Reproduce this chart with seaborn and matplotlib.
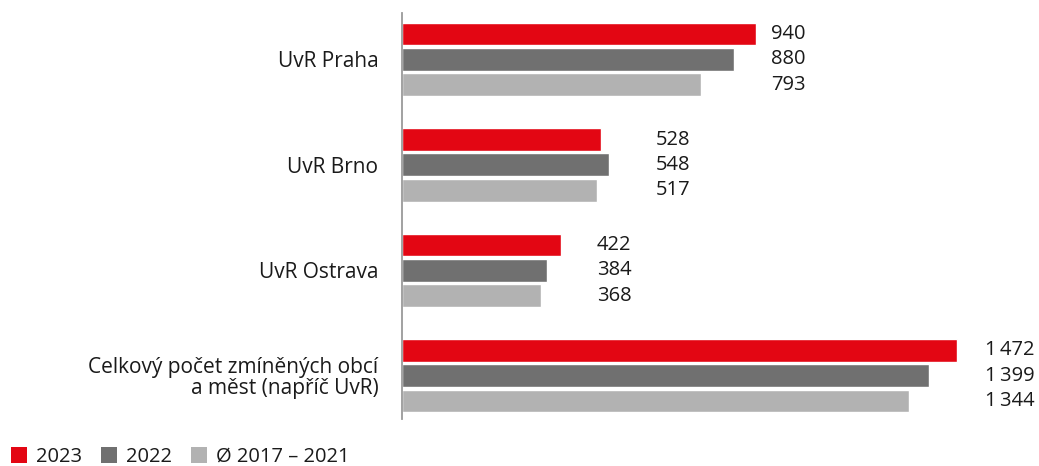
import pandas as pd
import matplotlib.pyplot as plt
import seaborn as sns
from matplotlib.patches import Patch

# data
categories = ['UvR Praha', 'UvR Brno', 'UvR Ostrava',
              'Celkový počet zmíněných obcí\na měst (napříč UvR)']
series = ['2023', '2022', 'Ø 2017 – 2021']
values_2023 = [940, 528, 422, 1472]
values_2022 = [880, 548, 384, 1399]
values_avg = [793, 517, 368, 1344]
label_x = [979, 674, 517, 1546]   # where the value labels start (data units)

colors = ['#E30613', '#707070', '#B2B2B2']

rows = []
for cat, a, b, c in zip(categories, values_2023, values_2022, values_avg):
    rows.append({'cat': cat, 'series': series[0], 'value': a})
    rows.append({'cat': cat, 'series': series[1], 'value': b})
    rows.append({'cat': cat, 'series': series[2], 'value': c})
df = pd.DataFrame(rows)

sns.set_style('white')
plt.rcParams['font.family'] = ['Open Sans', 'DejaVu Sans']
plt.rcParams['text.color'] = '#1a1a1a'

fig = plt.figure(figsize=(10.39, 4.66), dpi=100)
ax = fig.add_axes([402 / 1039, 47 / 466, 603 / 1039, 406 / 466])

sns.barplot(data=df, y='cat', x='value', hue='series', order=categories,
            hue_order=series, palette=colors, saturation=1, orient='h',
            width=0.72, gap=0.1, legend=False, ax=ax)

ax.set_xlim(0, 1600)
ax.set_ylim(3.41, -0.44)
ax.set_xlabel('')
ax.set_ylabel('')
ax.set_xticks([])
sns.despine(ax=ax, left=False, bottom=True)
ax.spines['left'].set_color('#9a9a9a')
ax.spines['left'].set_linewidth(1.3)
ax.tick_params(axis='y', length=0, pad=17, labelsize=15, labelcolor='#1a1a1a')
for t in ax.get_yticklabels():
    t.set_horizontalalignment('right')
    t.set_linespacing(1.0)

# value labels, formatted with a space as thousands separator
for container, vals in zip(ax.containers, [values_2023, values_2022, values_avg]):
    for bar, v, lx in zip(container, vals, label_x):
        txt = f'{v:,}'.replace(',', '\u2009')
        ax.text(lx, bar.get_y() + bar.get_height() / 2, txt,
                ha='left', va='center', fontsize=14.5, color='#1a1a1a')

handles = [Patch(facecolor=c, edgecolor='none') for c in colors]
fig.legend(handles, series, loc='center left',
           bbox_to_anchor=(11 / 1039, 1 - 457 / 466),
           ncol=3, frameon=False, fontsize=14.5, borderpad=0,
           borderaxespad=0, handlelength=0.78, handleheight=0.78,
           handletextpad=0.45, columnspacing=0.95)

plt.savefig('out.png', dpi=100)
